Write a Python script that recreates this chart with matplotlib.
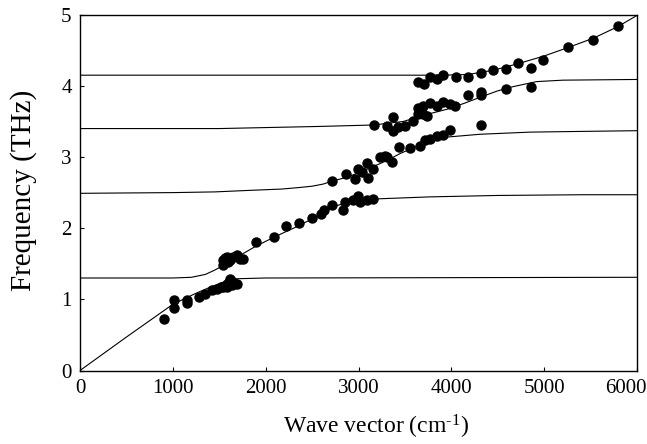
import matplotlib
matplotlib.use("Agg")
import matplotlib.pyplot as plt
from matplotlib.transforms import ScaledTranslation

# measured points: wave vector (cm^-1), frequency (THz)
pts_k = [908, 1013, 1013, 1149, 1149, 1282, 1347, 1418, 1472, 1520, 1544, 1580,
         1616, 1652, 1688, 1634, 1610, 1580,
         1541, 1544, 1562, 1580, 1616, 1652, 1688, 1724, 1760, 1598, 1892, 2094,
         2223, 2359, 2496, 2596, 2632, 2718, 2837, 2855, 2944, 2998, 3016, 3088,
         3153,
         2718, 2865, 2962, 2998, 3034, 3088, 3106, 3160, 3232, 3286, 3358, 3440,
         3555, 3663, 3716, 3770, 3842, 3914, 3986, 4316, 3304,
         3171, 3304, 3375, 3368, 3429, 3501, 3584, 3645, 3663, 3637, 3699, 3734,
         3770, 3842, 3914, 3986, 4040, 4183, 4316, 4316, 4589, 4858, 3700,
         3645, 3709, 3770, 3842, 3907, 4050, 4183, 4316, 4452, 4589, 4722, 4858,
         4991, 5260, 5530, 5790]
pts_f = [0.72, 0.99, 0.88, 0.99, 0.95, 1.04, 1.07, 1.13, 1.15, 1.18, 1.17, 1.21,
         1.29, 1.25, 1.22, 1.20, 1.24, 1.17,
         1.55, 1.48, 1.58, 1.60, 1.55, 1.60, 1.63, 1.57, 1.57, 1.52, 1.81, 1.87,
         2.03, 2.07, 2.15, 2.20, 2.25, 2.32, 2.26, 2.37, 2.39, 2.45, 2.37, 2.40,
         2.41,
         2.67, 2.76, 2.69, 2.83, 2.79, 2.91, 2.70, 2.83, 3.00, 3.02, 2.93, 3.14,
         3.13, 3.16, 3.24, 3.26, 3.30, 3.31, 3.38, 3.45, 3.00,
         3.45, 3.43, 3.56, 3.36, 3.42, 3.43, 3.50, 3.60, 3.66, 3.69, 3.61, 3.57,
         3.76, 3.72, 3.78, 3.75, 3.72, 3.87, 3.92, 3.87, 3.95, 3.98, 3.72,
         4.06, 4.02, 4.13, 4.10, 4.15, 4.12, 4.12, 4.18, 4.22, 4.24, 4.32, 4.25,
         4.37, 4.54, 4.64, 4.84]

# calculated polariton branches
b1_k = [0, 500, 1000, 1240, 1400, 1560, 1700, 2000, 6000]
b1_f = [0, 0.47, 0.93, 1.08, 1.17, 1.25, 1.29, 1.30, 1.31]

b2_k = [0, 1000, 1200, 1350, 1450, 1550, 1700, 1885, 2100, 2316, 2500, 2640,
        2750, 2900, 3160, 3770, 4500, 5400, 6000]
b2_f = [1.30, 1.30, 1.31, 1.35, 1.41, 1.48, 1.60, 1.74, 1.88, 2.01, 2.13, 2.23,
        2.31, 2.37, 2.41, 2.44, 2.46, 2.47, 2.47]

b3_k = [0, 1000, 1454, 1800, 2172, 2350, 2500, 2620, 2711, 2830, 2944, 3150,
        3304, 3450, 3590, 3770, 3950, 4310, 4850, 5400, 6000]
b3_f = [2.49, 2.50, 2.51, 2.53, 2.55, 2.57, 2.59, 2.62, 2.66, 2.70, 2.75, 2.86,
        2.95, 3.05, 3.13, 3.22, 3.28, 3.32, 3.35, 3.36, 3.37]

b4_k = [0, 1500, 2585, 3160, 3483, 3663, 3770, 3950, 4150, 4310, 4500, 4668,
        4920, 5200, 6000]
b4_f = [3.40, 3.40, 3.43, 3.45, 3.50, 3.57, 3.61, 3.67, 3.76, 3.84, 3.93, 3.99,
        4.06, 4.08, 4.09]

b5_k = [0, 3500, 3900, 4183, 4316, 4452, 4600, 4740, 5000, 5260, 5530, 5790, 6000]
b5_f = [4.15, 4.15, 4.15, 4.16, 4.19, 4.22, 4.27, 4.32, 4.42, 4.54, 4.67, 4.83, 4.99]

branches = [(b1_k, b1_f), (b2_k, b2_f), (b3_k, b3_f), (b4_k, b4_f), (b5_k, b5_f)]

plt.rcParams['font.family'] = ['Liberation Serif', 'DejaVu Serif']
plt.rcParams['mathtext.fontset'] = 'custom'
plt.rcParams['mathtext.rm'] = 'Liberation Serif'
plt.rcParams['mathtext.it'] = 'Liberation Serif:italic'

fig = plt.figure(figsize=(6.47, 4.44), dpi=100)
ax = fig.add_axes([0.1236, 0.1655, 0.861, 0.8014])

for k, f in branches:
    ax.plot(k, f, color='black', lw=0.8)

ax.plot(pts_k, pts_f, 'o', color='black', ms=6.5, mec='black')

ax.set_xlim(0, 6000)
ax.set_ylim(0, 5)
ax.set_xticks([0, 1000, 2000, 3000, 4000, 5000, 6000])
ax.set_yticks([0, 1, 2, 3, 4, 5])
ax.tick_params(direction='in', length=3, width=0.8, labelsize=15, pad=6)
for s in ax.spines.values():
    s.set_linewidth(1.0)

# last x label sits a bit left so it stays inside the figure
last = ax.get_xticklabels()[-1]
last.set_transform(last.get_transform() + ScaledTranslation(-0.11, 0, fig.dpi_scale_trans))

ax.set_xlabel(r'Wave vector (cm$^{\mathrm{\text{-}1}}$)', fontsize=17)
ax.xaxis.set_label_coords(0.531, -0.118)
ax.set_ylabel('Frequency (THz)', fontsize=21)
ax.yaxis.set_label_coords(-0.077, 0.507)

fig.savefig('out.png', dpi=100, facecolor='white')
